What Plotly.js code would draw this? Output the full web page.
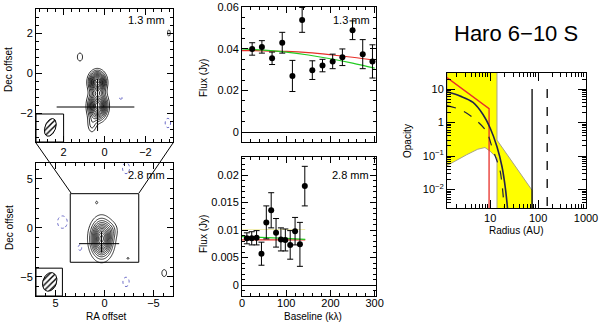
<!DOCTYPE html>
<html>
<head>
<meta charset="utf-8">
<script src="https://cdn.plot.ly/plotly-3.0.1.min.js"></script>
<style>body{margin:0;background:#fff}#chart{width:600px;height:322px}</style>
</head>
<body>
<div id="chart"></div>
<script>
// ---- visibilities, 1.3 mm (baseline kλ, flux Jy) ----
const base13 = [23, 45, 68, 91, 114, 136, 159, 182, 205, 227, 250, 273, 295];
const flux13 = [0.040, 0.041, 0.0355, 0.043, 0.027, 0.054, 0.0298, 0.032, 0.034, 0.036, 0.049, 0.0375, 0.034];
const err13  = [0.003, 0.003, 0.003, 0.005, 0.0075, 0.006, 0.0045, 0.003, 0.0035, 0.004, 0.0045, 0.007, 0.008];
const modelX13 = [0, 50, 100, 150, 200, 250, 300];
const modelRed13   = [0.0392, 0.0391, 0.0388, 0.0382, 0.0372, 0.0360, 0.0345];
const modelGreen13 = [0.0400, 0.0394, 0.0385, 0.0371, 0.0353, 0.0332, 0.0308];

// ---- visibilities, 2.8 mm ----
const base28 = [11, 22, 33, 44, 55, 66, 77, 88, 98, 109, 120, 131, 142];
const flux28 = [0.0085, 0.0085, 0.0086, 0.0057, 0.0114, 0.0136, 0.0095, 0.0083, 0.0082, 0.0073, 0.0098, 0.0074, 0.0180];
const err28  = [0.0010, 0.0012, 0.0013, 0.0021, 0.0030, 0.0032, 0.0026, 0.0021, 0.0020, 0.0026, 0.0025, 0.0040, 0.0036];
const modelX28 = [0, 50, 100, 143];
const modelRed28   = [0.0082, 0.0082, 0.0082, 0.0082];
const modelGreen28 = [0.0088, 0.0087, 0.0085, 0.0083];
const modelYel28   = [0.0101, 0.0101, 0.0101, 0.0101];

// ---- image components: [RA, Dec, peak, sigmaRA, sigmaDec] ----
const map13 = [
  [0.35, -0.45, 1.0, 0.25, 0.33],
  [0.33, -1.65, 1.0, 0.28, 0.42],
  [0.62, -2.6, 0.2, 0.16, 0.32],
  [1.2, 0.8, 0.15, 0.19, 0.30],
  [-0.9, 3.45, 0.16, 0.3, 0.25],
  [-3.15, 2.0, 0.14, 0.12, 0.3],
  [-0.8, -1.25, -0.14, 0.12, 0.12],
  [-3.1, -2.5, -0.15, 0.2, 0.35]
];
const map28 = [
  [0.3, -1.1, 1.0, 0.64, 1.09],
  [-0.7, -0.2, 0.12, 0.45, 0.55],
  [0.8, 2.6, 0.1, 0.15, 0.2],
  [-2.4, -3.1, 0.1, 0.15, 0.15],
  [-6.1, -4.6, 0.11, 0.3, 0.45],
  [4.3, 0.6, -0.12, 0.55, 0.7],
  [2.5, -2.0, -0.1, 0.3, 0.45],
  [-2.2, -5.5, -0.11, 0.4, 0.6],
  [-2.2, 6.1, -0.11, 0.45, 0.7]
];
// beams: [RA, Dec, semi-major, semi-minor, tilt deg]
const beam13 = [2.65, -2.72, 0.46, 0.26, 20];
const beam28 = [5.6, -5.5, 0.98, 0.7, 20];

// ---- opacity profile (radius AU) ----
const yelR = [1.26, 13.9, 13.9, 75, 75, 13.9, 13.9, 10, 7.8, 5.5, 3.25, 1.26, 1.26];
const yelT = [40, 40, 0.30, 0.0095, 0.002, 0.002, 0.087, 0.14, 0.18, 0.16, 0.11, 0.052, 40];
const solidR = [1.26, 2.35, 4.4, 7.1, 10, 13.9, 17.7, 21, 23.5];
const solidT = [8.3, 6.2, 4.0, 1.74, 0.69, 0.19, 0.048, 0.0098, 0.002];
const dashR = [1.26, 2.35, 4.4, 8.3, 10.9, 13.5, 16, 19.6];
const dashT = [3.2, 2.45, 1.4, 0.55, 0.19, 0.08, 0.039, 0.003];
const redR = [1.26, 9.5, 9.5];
const redT = [22, 2.6, 0.002];
const vSolidR = 75, vDashR = 155;

const xTicks13 = [2, 0, -2];
const yTickVals = [10, 1, 0.1, 0.01];
const yTickText = ['10', '1', '10<sup>\u22121</sup>', '10<sup>\u22122</sup>'];
const xTickVals = [10, 100, 1000];
const xTickText = ['10', '100', '1000'];

function field(comps, lo, hi, step) {
  const g = [];
  for (let v = lo; v <= hi + 1e-9; v += step) g.push(+v.toFixed(3));
  const z = g.map(dec => g.map(ra => comps.reduce((s, [cx, cy, a, sx, sy]) =>
    s + a * Math.exp(-((ra - cx) ** 2 / (2 * sx * sx) + (dec - cy) ** 2 / (2 * sy * sy))), 0)));
  return { g, z };
}

function beamTrace([cx, cy, a, b, tilt], xa, ya) {
  const th = tilt * Math.PI / 180, x = [], y = [];
  for (let i = 0; i <= 60; i++) {
    const t = i / 60 * 2 * Math.PI;
    const u = b * Math.cos(t), v = a * Math.sin(t);
    const up = u * Math.cos(th) + v * Math.sin(th);
    const vp = -u * Math.sin(th) + v * Math.cos(th);
    x.push(cx - up); y.push(cy + vp);
  }
  return { type: 'scatter', mode: 'lines', x, y, xaxis: xa, yaxis: ya, fill: 'toself',
    fillcolor: 'white', fillpattern: { shape: '/', fgcolor: 'black', bgcolor: 'white', size: 4, solidity: 0.35 },
    line: { color: 'black', width: 1 }, hoverinfo: 'skip' };
}

function contourPair(f, xa, ya, start, size, neg) {
  const common = { type: 'contour', x: f.g, y: f.g, z: f.z, xaxis: xa, yaxis: ya,
    showscale: false, autocontour: false, hoverinfo: 'skip' };
  return [
    { ...common, contours: { coloring: 'lines', start: start, end: 1.0, size: size },
      colorscale: [[0, '#000'], [1, '#000']], line: { width: 0.8 } },
    { ...common, contours: { coloring: 'lines', start: neg, end: neg, size: 1 },
      colorscale: [[0, '#6a6ac8'], [1, '#6a6ac8']], line: { width: 1, dash: 'dot' } }
  ];
}

const f13 = field(map13, -3.6, 3.6, 0.05);
const f28 = field(map28, -7.5, 7.5, 0.1);

const traces = [
  ...contourPair(f13, 'x', 'y', 0.12, 0.08, -0.12),
  beamTrace(beam13, 'x', 'y'),
  ...contourPair(f28, 'x2', 'y2', 0.08, 0.08, -0.08),
  beamTrace(beam28, 'x2', 'y2'),
  // 1.3 mm visibilities
  { type: 'scatter', mode: 'lines', x: modelX13, y: modelRed13, xaxis: 'x3', yaxis: 'y3', line: { color: '#e8302a', width: 1.2, shape: 'spline' } },
  { type: 'scatter', mode: 'lines', x: modelX13, y: modelGreen13, xaxis: 'x3', yaxis: 'y3', line: { color: '#22cc22', width: 1.2, shape: 'spline' } },
  { type: 'scatter', mode: 'markers', x: base13, y: flux13, xaxis: 'x3', yaxis: 'y3', marker: { color: 'black', size: 6 },
    error_y: { type: 'data', array: err13, visible: true, color: 'black', thickness: 1, width: 3 } },
  // 2.8 mm visibilities
  { type: 'scatter', mode: 'lines', x: modelX28, y: modelYel28, xaxis: 'x4', yaxis: 'y4', line: { color: '#f2eeb0', width: 1 } },
  { type: 'scatter', mode: 'lines', x: modelX28, y: modelRed28, xaxis: 'x4', yaxis: 'y4', line: { color: '#e8302a', width: 1.2 } },
  { type: 'scatter', mode: 'lines', x: modelX28, y: modelGreen28, xaxis: 'x4', yaxis: 'y4', line: { color: '#22cc22', width: 1.2 } },
  { type: 'scatter', mode: 'markers', x: base28, y: flux28, xaxis: 'x4', yaxis: 'y4', marker: { color: 'black', size: 6 },
    error_y: { type: 'data', array: err28, visible: true, color: 'black', thickness: 1, width: 3 } },
  // opacity
  { type: 'scatter', mode: 'lines', x: yelR, y: yelT, xaxis: 'x5', yaxis: 'y5', fill: 'toself', fillcolor: '#ffff00', line: { color: '#a8a488', width: 1 } },
  { type: 'scatter', mode: 'lines', x: redR, y: redT, xaxis: 'x5', yaxis: 'y5', line: { color: '#e8302a', width: 1.3 } },
  { type: 'scatter', mode: 'lines', x: dashR, y: dashT, xaxis: 'x5', yaxis: 'y5', line: { color: '#202040', width: 1.2, dash: 'dash', shape: 'spline' } },
  { type: 'scatter', mode: 'lines', x: solidR, y: solidT, xaxis: 'x5', yaxis: 'y5', line: { color: '#22224a', width: 1.6, shape: 'spline' } },
  { type: 'scatter', mode: 'lines', x: [vSolidR, vSolidR], y: [10, 0.002], xaxis: 'x5', yaxis: 'y5', line: { color: 'black', width: 1.3 } },
  { type: 'scatter', mode: 'lines', x: [vDashR, vDashR], y: [10, 0.002], xaxis: 'x5', yaxis: 'y5', line: { color: 'black', width: 1.3, dash: 'dash' } }
];

function ax(extra) {
  return Object.assign({
    showline: true, linecolor: 'black', linewidth: 1, mirror: 'ticks',
    ticks: 'inside', ticklen: 6, tickwidth: 1, tickcolor: 'black',
    showgrid: false, zeroline: false, automargin: false, fixedrange: true,
    tickfont: { family: 'Liberation Sans, Arial, sans-serif', size: 11, color: 'black' },
    minor: { ticks: 'inside', ticklen: 3, tickcolor: 'black', showgrid: false }
  }, extra);
}
function minorLog(k0, k1) {
  const v = [];
  for (let k = k0; k <= k1; k++) for (let m = 2; m <= 9; m++) v.push(m * Math.pow(10, k));
  return v;
}
const px = p => p / 600, py = p => 1 - p / 322;
const W = 600, H = 322;

function note(text, x, y, size, angle) {
  return { text, x: px(x), y: py(y), xref: 'paper', yref: 'paper', showarrow: false,
    xanchor: 'center', yanchor: 'middle', textangle: angle || 0,
    font: { family: 'Liberation Sans, Arial, sans-serif', size: size || 11, color: 'black' } };
}

const layout = {
  width: W, height: H, margin: { l: 0, r: 0, t: 0, b: 0 },
  paper_bgcolor: 'white', plot_bgcolor: 'white', showlegend: false,
  xaxis: ax({ domain: [px(36), px(173)], anchor: 'y', range: [3.35, -3.35], tickvals: xTicks13, minor: { ticks: 'inside', ticklen: 3, tickcolor: 'black', dtick: 0.4, tick0: 0 } }),
  yaxis: ax({ domain: [py(142), py(9)], anchor: 'x', range: [-3.45, 3.2], tickvals: xTicks13, minor: { ticks: 'inside', ticklen: 3, tickcolor: 'black', dtick: 0.4, tick0: 0 } }),
  xaxis2: ax({ domain: [px(36), px(173)], anchor: 'y2', range: [7, -7], dtick: 5, ticklabelstandoff: -3, minor: { ticks: 'inside', ticklen: 3, tickcolor: 'black', dtick: 1 } }),
  yaxis2: ax({ domain: [py(296), py(163)], anchor: 'x2', range: [-6.94, 6.63], dtick: 5, minor: { ticks: 'inside', ticklen: 3, tickcolor: 'black', dtick: 1 } }),
  xaxis3: ax({ domain: [px(242), px(376)], anchor: 'y3', range: [0, 303], dtick: 100, showticklabels: false, minor: { ticks: 'inside', ticklen: 3, tickcolor: 'black', dtick: 20 } }),
  yaxis3: ax({ domain: [py(142), py(7)], anchor: 'x3', range: [-0.0048, 0.0602], dtick: 0.02, zeroline: true, zerolinecolor: 'black', zerolinewidth: 1, minor: { ticks: 'inside', ticklen: 3, tickcolor: 'black', dtick: 0.005 } }),
  xaxis4: ax({ domain: [px(242), px(376)], anchor: 'y4', range: [0, 303], dtick: 100, ticklabelstandoff: -3, minor: { ticks: 'inside', ticklen: 3, tickcolor: 'black', dtick: 20 } }),
  yaxis4: ax({ domain: [py(296), py(157)], anchor: 'x4', range: [-0.002, 0.0233], dtick: 0.005, zeroline: true, zerolinecolor: 'black', zerolinewidth: 1, minor: { ticks: 'inside', ticklen: 3, tickcolor: 'black', dtick: 0.001 } }),
  xaxis5: ax({ domain: [px(447), px(586)], anchor: 'y5', type: 'log', range: [0.1, 3], tickvals: xTickVals, ticktext: xTickText, ticklen: 8,
    minor: { ticks: 'inside', ticklen: 4, tickcolor: 'black', tickmode: 'array', tickvals: minorLog(0, 2) } }),
  yaxis5: ax({ domain: [py(208), py(73)], anchor: 'x5', type: 'log', range: [-2.55, 1.48], tickvals: yTickVals, ticktext: yTickText, ticklen: 8,
    minor: { ticks: 'inside', ticklen: 4, tickcolor: 'black', tickmode: 'array', tickvals: minorLog(-3, 1) } }),
  shapes: [
    // beam boxes
    { type: 'rect', xref: 'x', yref: 'y', x0: 3.35, x1: 2.0, y0: -3.45, y1: -2.05, line: { color: 'black', width: 1 } },
    { type: 'rect', xref: 'x2', yref: 'y2', x0: 7, x1: 4.3, y0: -6.94, y1: -4.1, line: { color: 'black', width: 1 } },
    // peak crosses
    { type: 'line', xref: 'x', yref: 'y', x0: 2.34, x1: -1.46, y0: -1.7, y1: -1.7, line: { color: 'black', width: 1 } },
    { type: 'line', xref: 'x', yref: 'y', x0: 0.34, x1: 0.34, y0: -0.3, y1: -2.9, line: { color: 'black', width: 1 } },
    { type: 'line', xref: 'x2', yref: 'y2', x0: 2.6, x1: -1.5, y0: -1.6, y1: -1.6, line: { color: 'black', width: 1 } },
    { type: 'line', xref: 'x2', yref: 'y2', x0: 0.3, x1: 0.3, y0: -0.4, y1: -2.5, line: { color: 'black', width: 1 } },
    // zoom box and connectors
    { type: 'rect', xref: 'x2', yref: 'y2', x0: 3.5, x1: -3.5, y0: -3.5, y1: 3.5, line: { color: 'black', width: 1 } },
    { type: 'line', xref: 'paper', yref: 'paper', x0: px(36), y0: py(143), x1: px(71), y1: py(193), line: { color: 'black', width: 1 } },
    { type: 'line', xref: 'paper', yref: 'paper', x0: px(173), y0: py(143), x1: px(139), y1: py(193), line: { color: 'black', width: 1 } }
  ],
  annotations: [
    note('1.3 mm', 146, 20), note('2.8 mm', 146, 175),
    note('1.3 mm', 351, 20), note('2.8 mm', 350, 175),
    note('Dec offset', 9, 70, 10, -90), note('Dec offset', 9, 228, 10, -90),
    note('RA offset', 106, 316, 10),
    note('Flux (Jy)', 203, 78, 10, -90), note('Flux (Jy)', 203, 234, 10, -90),
    note('Baseline (k\u03bb)', 313, 316, 10),
    note('Opacity', 407, 141, 10, -90),
    note('Radius (AU)', 516, 230, 10),
    note('Haro 6\u221210 S', 516, 33, 22)
  ]
};

Plotly.newPlot('chart', traces, layout, { staticPlot: true, displayModeBar: false });
</script>
</body>
</html>
